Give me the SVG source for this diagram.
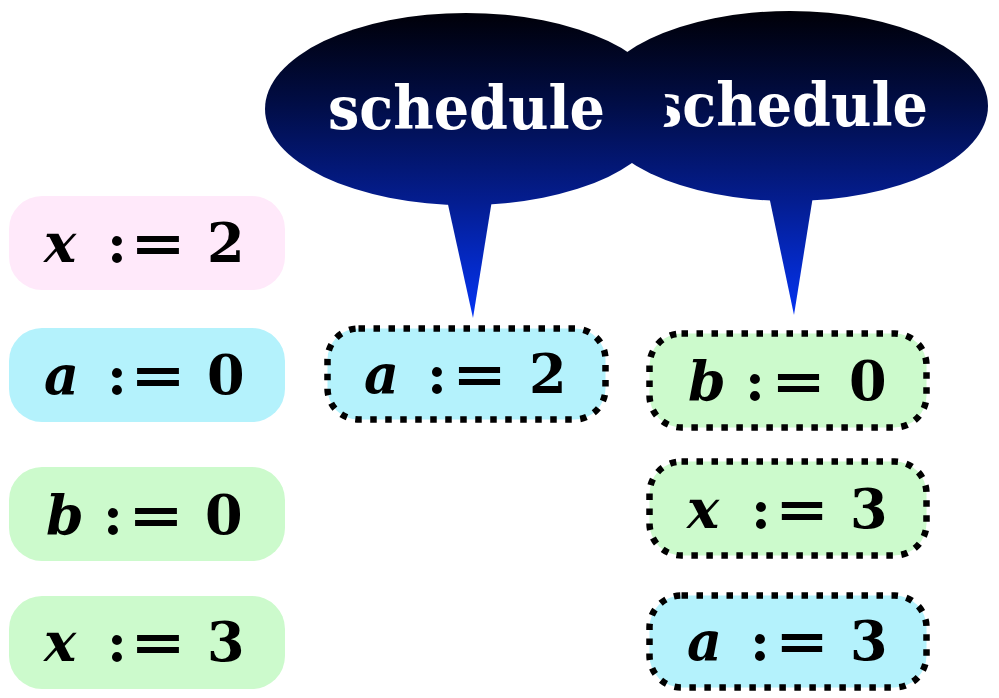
<svg xmlns="http://www.w3.org/2000/svg" width="999" height="698" viewBox="0 0 999 698">
<style>
.pk{fill:#FFE9FA}
.cy{fill:#B4F2FC}
.gr{fill:#CCFACC}
.dot{stroke:#000;stroke-width:6.5;stroke-dasharray:6.5 8.5}
.m{font-family:"DejaVu Serif","Liberation Serif",serif;font-weight:bold;font-size:54px;fill:#000}
.v{font-style:italic}
.sch{font-family:"DejaVu Serif","Liberation Serif",serif;font-weight:bold;font-size:60px;fill:#fff}
</style>
<defs>
<linearGradient id="g" gradientUnits="userSpaceOnUse" x1="0" y1="12" x2="0" y2="318">
<stop offset="0" stop-color="#000008"/>
<stop offset="0.3" stop-color="#010d46"/>
<stop offset="0.62" stop-color="#041d90"/>
<stop offset="1" stop-color="#0434F4"/>
</linearGradient>
</defs>
<g id="connectors"></g>
<g id="callout2">
<ellipse cx="790" cy="106" rx="198" ry="95" fill="url(#g)"/>
<polygon points="769,196 813,196 794,315" fill="url(#g)"/>
<text class="sch" x="651" y="126" textLength="277" lengthAdjust="spacingAndGlyphs">schedule</text>
</g>
<g id="callout1">
<ellipse cx="466" cy="109" rx="201" ry="96" fill="url(#g)"/>
<polygon points="447,200 492,200 473,318" fill="url(#g)"/>
<text class="sch" x="328" y="129" textLength="277" lengthAdjust="spacingAndGlyphs">schedule</text>
</g>
<g id="n_x2">
<rect class="pk" x="9" y="196" width="276" height="94" rx="33"/>
<text class="m" y="262"><tspan class="v" x="44">x</tspan><tspan x="107">:</tspan><tspan x="130" textLength="56" lengthAdjust="spacingAndGlyphs">=</tspan><tspan x="207">2</tspan></text>
</g>
<g id="n_a0">
<rect class="cy" x="9" y="328" width="276" height="94" rx="33"/>
<text class="m" y="394"><tspan class="v" x="44">a</tspan><tspan x="107">:</tspan><tspan x="130" textLength="56" lengthAdjust="spacingAndGlyphs">=</tspan><tspan x="207">0</tspan></text>
</g>
<g id="n_b0">
<rect class="gr" x="9" y="467" width="276" height="94" rx="33"/>
<text class="m" y="534"><tspan class="v" x="46">b</tspan><tspan x="103">:</tspan><tspan x="128" textLength="56" lengthAdjust="spacingAndGlyphs">=</tspan><tspan x="205">0</tspan></text>
</g>
<g id="n_x3">
<rect class="gr" x="9" y="596" width="276" height="93" rx="33"/>
<text class="m" y="661"><tspan class="v" x="44">x</tspan><tspan x="107">:</tspan><tspan x="130" textLength="56" lengthAdjust="spacingAndGlyphs">=</tspan><tspan x="207">3</tspan></text>
</g>
<g id="n_a2">
<rect class="cy dot" x="327.5" y="328.5" width="278" height="91" rx="31"/>
<text class="m" y="393"><tspan class="v" x="364">a</tspan><tspan x="427">:</tspan><tspan x="452" textLength="55" lengthAdjust="spacingAndGlyphs">=</tspan><tspan x="529">2</tspan></text>
</g>
<g id="n_b0r">
<rect class="gr dot" x="649.5" y="333.5" width="277" height="94" rx="32"/>
<text class="m" y="400"><tspan class="v" x="688">b</tspan><tspan x="745">:</tspan><tspan x="771" textLength="55" lengthAdjust="spacingAndGlyphs">=</tspan><tspan x="849">0</tspan></text>
</g>
<g id="n_x3r">
<rect class="gr dot" x="649.5" y="461.5" width="277" height="94" rx="32"/>
<text class="m" y="528"><tspan class="v" x="687">x</tspan><tspan x="751">:</tspan><tspan x="775" textLength="54" lengthAdjust="spacingAndGlyphs">=</tspan><tspan x="850">3</tspan></text>
</g>
<g id="n_a3r">
<rect class="cy dot" x="649.5" y="595.5" width="277" height="92" rx="32"/>
<text class="m" y="660"><tspan class="v" x="687">a</tspan><tspan x="750">:</tspan><tspan x="775" textLength="54" lengthAdjust="spacingAndGlyphs">=</tspan><tspan x="850">3</tspan></text>
</g>
</svg>
